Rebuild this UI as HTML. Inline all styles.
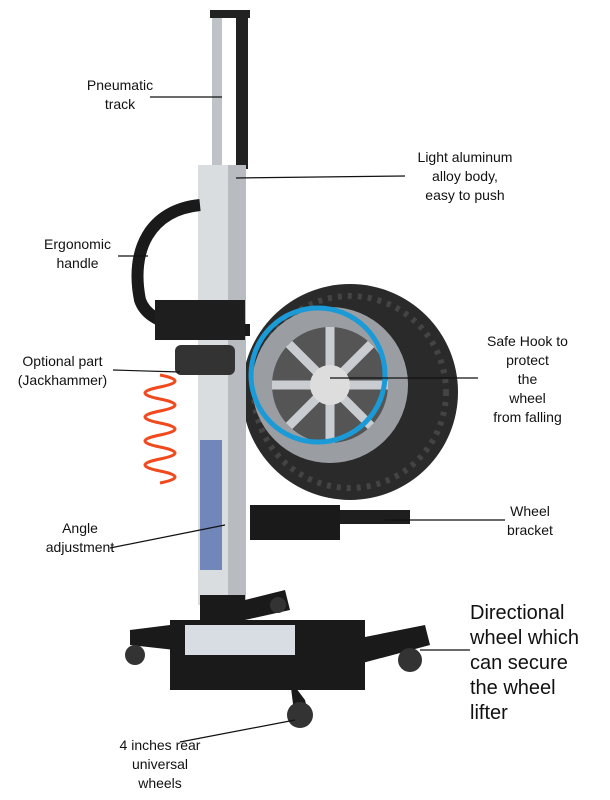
<!DOCTYPE html>
<html><head><meta charset="utf-8"><style>
body{margin:0;width:610px;height:800px;background:#fff;overflow:hidden;position:relative;font-family:"Liberation Sans",sans-serif}
.t{position:absolute;font-size:14px;color:#111;text-align:center;line-height:19px}
.big{font-size:20px;text-align:left;line-height:25px}
svg{position:absolute;left:0;top:0}
</style></head><body>
<svg width="610" height="800">
<circle cx="350" cy="392" r="108" fill="#2a2a2a"/>
<circle cx="350" cy="392" r="96" fill="none" stroke="#444" stroke-width="6" stroke-dasharray="4 6"/>
<circle cx="330" cy="385" r="78" fill="#9a9ea3"/>
<circle cx="330" cy="385" r="58" fill="#555"/>
<g stroke="#c9cdd1" stroke-width="9">
<line x1="330" y1="327" x2="330" y2="443"/><line x1="272" y1="385" x2="388" y2="385"/>
<line x1="289" y1="344" x2="371" y2="426"/><line x1="371" y1="344" x2="289" y2="426"/>
</g>
<circle cx="330" cy="385" r="20" fill="#ddd"/>
<circle cx="318" cy="375" r="67" fill="none" stroke="#1a9ad6" stroke-width="5"/>
<rect x="212" y="14" width="10" height="155" fill="#bfc3c7"/>
<rect x="236" y="14" width="12" height="155" fill="#222"/>
<rect x="210" y="10" width="40" height="8" fill="#222"/>
<rect x="198" y="165" width="48" height="440" fill="#dadde0"/>
<rect x="228" y="165" width="18" height="440" fill="#b8bcc0"/>
<rect x="200" y="440" width="22" height="130" fill="#2c4ea0" opacity=".6"/>
<path d="M200 205 C150 210 130 250 140 300 C150 330 200 330 250 330" fill="none" stroke="#1a1a1a" stroke-width="12"/>
<rect x="155" y="300" width="90" height="40" fill="#1e1e1e"/>
<rect x="175" y="345" width="60" height="30" fill="#333" rx="6"/>
<path d="M160 375 q30 6 0 12 q-30 6 0 12 q30 6 0 12 q-30 6 0 12 q30 6 0 12 q-30 6 0 12 q30 6 0 12 q-30 6 0 12 q30 6 0 12" fill="none" stroke="#f04a1e" stroke-width="3"/>
<rect x="250" y="510" width="160" height="14" fill="#1e1e1e"/>
<rect x="250" y="505" width="90" height="35" fill="#1a1a1a"/>
<rect x="170" y="620" width="195" height="70" fill="#1a1a1a"/>
<rect x="200" y="595" width="45" height="30" fill="#1a1a1a"/>
<path d="M245 600 L285 590 L290 610 L245 620Z" fill="#1a1a1a"/>
<path d="M130 630 L170 625 L175 650 L130 645Z" fill="#1a1a1a"/>
<path d="M350 640 L425 625 L430 645 L355 665Z" fill="#1a1a1a"/>
<path d="M290 680 L305 700 L310 720 L295 720Z" fill="#1a1a1a"/>
<rect x="185" y="625" width="110" height="30" fill="#d8dde3"/>
<circle cx="135" cy="655" r="10" fill="#333"/><circle cx="278" cy="605" r="8" fill="#333"/>
<circle cx="410" cy="660" r="12" fill="#333"/><circle cx="300" cy="715" r="13" fill="#333"/>
<g stroke="#111" stroke-width="1.2">
<line x1="150" y1="97" x2="222" y2="97"/>
<line x1="236" y1="178" x2="405" y2="176"/>
<line x1="118" y1="256" x2="148" y2="256"/>
<line x1="113" y1="370" x2="180" y2="372"/>
<line x1="330" y1="378" x2="478" y2="378"/>
<line x1="110" y1="548" x2="225" y2="525"/>
<line x1="385" y1="520" x2="505" y2="520"/>
<line x1="420" y1="650" x2="470" y2="650"/>
<line x1="180" y1="742" x2="295" y2="720"/>
</g>
</svg>
<div class="t" style="left:70px;top:76px;width:100px">Pneumatic<br>track</div>
<div class="t" style="left:395px;top:148px;width:140px">Light aluminum<br>alloy body,<br>easy to push</div>
<div class="t" style="left:30px;top:235px;width:95px">Ergonomic<br>handle</div>
<div class="t" style="left:5px;top:352px;width:115px">Optional part<br>(Jackhammer)</div>
<div class="t" style="left:470px;top:332px;width:115px">Safe Hook to<br>protect<br>the<br>wheel<br>from falling</div>
<div class="t" style="left:30px;top:519px;width:100px">Angle<br>adjustment</div>
<div class="t" style="left:490px;top:502px;width:80px">Wheel<br>bracket</div>
<div class="t big" style="left:470px;top:601px;width:140px">Directional<br>wheel which<br>can secure<br>the wheel<br>lifter</div>
<div class="t" style="left:95px;top:736px;width:130px">4 inches rear<br>universal<br>wheels</div>
</body></html>
